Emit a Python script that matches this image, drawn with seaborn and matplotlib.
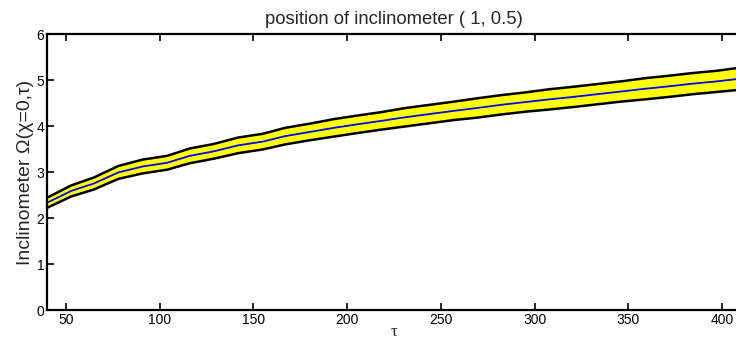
import matplotlib
matplotlib.use("Agg")
import matplotlib.pyplot as plt
import seaborn as sns
import pandas as pd

tau = [40, 53, 65, 78, 91, 104, 116, 129, 142, 155, 167, 180, 193, 206, 218,
       231, 244, 257, 269, 282, 295, 308, 320, 333, 346, 359, 371, 384, 397, 410]
center = [2.33, 2.59, 2.75, 2.99, 3.12, 3.20, 3.35, 3.45, 3.58, 3.66, 3.78, 3.87,
          3.96, 4.04, 4.11, 4.19, 4.26, 4.33, 4.39, 4.46, 4.52, 4.58, 4.63, 4.69,
          4.75, 4.81, 4.86, 4.92, 4.97, 5.03]
upper = [2.44, 2.71, 2.88, 3.13, 3.27, 3.35, 3.51, 3.61, 3.75, 3.83, 3.96, 4.05,
         4.15, 4.23, 4.30, 4.39, 4.46, 4.53, 4.60, 4.67, 4.73, 4.80, 4.85, 4.91,
         4.97, 5.04, 5.09, 5.15, 5.20, 5.27]
lower = [2.22, 2.47, 2.62, 2.85, 2.97, 3.05, 3.19, 3.29, 3.41, 3.49, 3.60, 3.69,
         3.77, 3.85, 3.92, 3.99, 4.06, 4.13, 4.18, 4.25, 4.31, 4.36, 4.41, 4.47,
         4.53, 4.58, 4.63, 4.69, 4.74, 4.79]
xticks = [50, 100, 150, 200, 250, 300, 350, 400]
yticks = [0, 1, 2, 3, 4, 5, 6]

df = pd.DataFrame({"tau": tau, "center": center, "upper": upper, "lower": lower})

sns.set_style("white")
plt.rcParams["font.family"] = ["Liberation Sans", "DejaVu Sans"]

fig = plt.figure(figsize=(7.36, 3.41), dpi=100)
ax = fig.add_axes([47 / 736, 1 - 310 / 341, (741 - 47) / 736, (310 - 34) / 341])

ax.fill_between(df["tau"], df["lower"], df["upper"], color="#ffff00", linewidth=0, zorder=1)
sns.lineplot(data=df, x="tau", y="upper", color="black", linewidth=1.8, ax=ax, zorder=2)
sns.lineplot(data=df, x="tau", y="lower", color="black", linewidth=1.8, ax=ax, zorder=2)
sns.lineplot(data=df, x="tau", y="center", color="#0000ff", linewidth=1.3, ax=ax, zorder=3)

ax.set_xlim(40, 410)
ax.set_ylim(0, 6)
ax.set_xticks(xticks)
ax.set_yticks(yticks)
ax.tick_params(direction="in", length=5, width=1.2, labelsize=10, top=True,
               bottom=True, left=True, right=False, pad=2, colors="black")
ax.tick_params(axis="x", labeltop=False)
for s in ax.spines.values():
    s.set_linewidth(1.6)
    s.set_color("black")

ax.set_xlabel("τ", fontsize=12, family=["Liberation Serif", "DejaVu Serif"], labelpad=-2)
ax.set_ylabel("Inclinometer Ω(χ=0,τ)", fontsize=14, labelpad=2)
ax.set_title("position of inclinometer ( 1, 0.5)", fontsize=13.3, pad=7)

fig.savefig("out.png", dpi=100)
